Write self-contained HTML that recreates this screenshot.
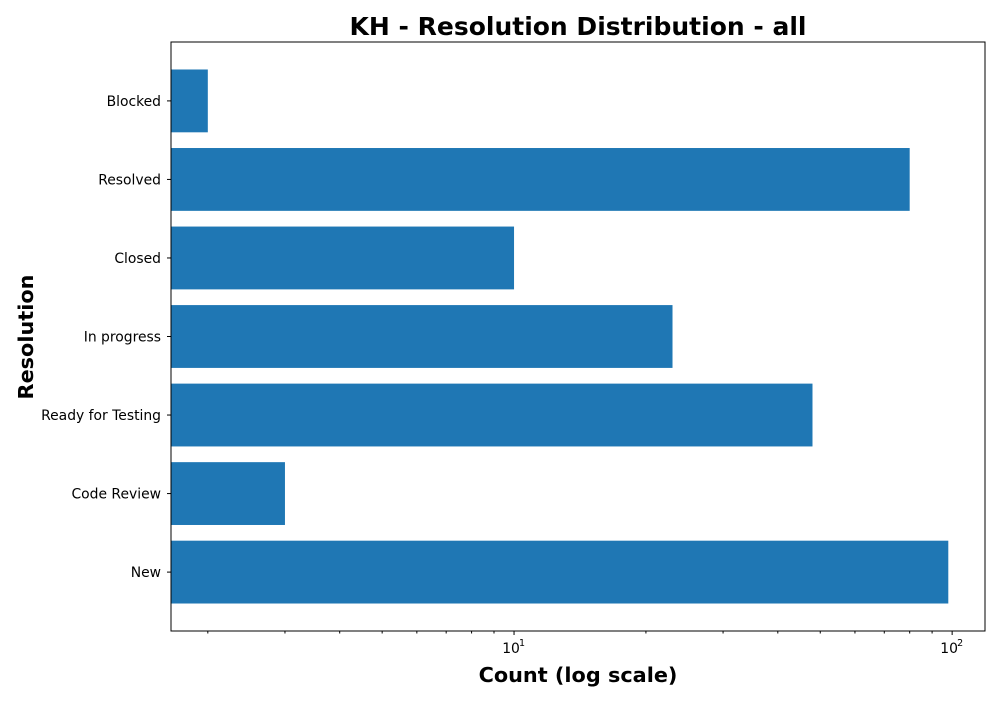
<!DOCTYPE html>
<html><head><meta charset="utf-8"><style>
body{margin:0;background:#fff;}
svg text{font-family:"DejaVu Sans","Liberation Sans",sans-serif;}
</style></head><body>
<svg id="chart" width="1000" height="700" xmlns="http://www.w3.org/2000/svg">
<rect width="1000" height="700" fill="#fff"/>
<text x="578" y="35" text-anchor="middle" font-size="25" font-weight="bold">KH - Resolution Distribution - all</text>
<text x="578" y="682" text-anchor="middle" font-size="20.8" font-weight="bold">Count (log scale)</text>
<text transform="translate(33,337) rotate(-90)" text-anchor="middle" font-size="20.8" font-weight="bold">Resolution</text>
<g id="bars"></g>
<g id="axes"></g>
<rect x="171" y="42" width="814" height="589" fill="none" stroke="#000" stroke-width="1"/>
</svg>
<script>
const categories = ["New","Code Review","Ready for Testing","In progress","Closed","Resolved","Blocked"];
const counts = [98,3,48,23,10,80,2];
const majorTicks = [10,100];
const majorLabels = ["10","10"];
const majorExp = ["1","2"];

const L=171,R=985,T=42,B=631;
const lmin=0.217,lmax=2.075;
const xs=v=>L+(Math.log10(v)-lmin)/(lmax-lmin)*(R-L);
const ys=i=>B-(i+0.75)/7.5*(B-T);
const bh=0.8*(B-T)/7.5;
const NS="http://www.w3.org/2000/svg";
const bars=document.getElementById('bars'), axes=document.getElementById('axes');
function mk(tag,attrs,parent){const e=document.createElementNS(NS,tag);for(const k in attrs)e.setAttribute(k,attrs[k]);parent.appendChild(e);return e;}
categories.forEach((c,i)=>{
  const r=mk('rect',{x:L,y:ys(i)-bh/2,width:Math.max(0,xs(counts[i])-L),height:bh,fill:'#1f77b4'},bars);
  
  
  mk('line',{x1:L-4,x2:L,y1:ys(i),y2:ys(i),stroke:'#000'},axes);
  const t=mk('text',{x:L-10,y:ys(i)+5,'text-anchor':'end','font-size':13.9},axes);
  t.textContent=c;
  
  
});
for(let d=1;d<=100;d*=10){for(let m=2;m<=9;m++){const v=d*m;const x=xs(v);if(x>=L&&x<=R)mk('line',{x1:x,x2:x,y1:B,y2:B+2.5,stroke:'#000'},axes);}}
majorTicks.forEach((v,i)=>{
  const x=xs(v);
  mk('line',{x1:x,x2:x,y1:B,y2:B+4,stroke:'#000'},axes);
  const t=mk('text',{x:x-3,y:B+22,'text-anchor':'middle','font-size':13.9},axes);
  t.textContent=majorLabels[i];
  
  
  const s=mk('text',{x:x+5,y:B+15,'text-anchor':'start','font-size':9.5},axes);
  s.textContent=majorExp[i];
  
  
});
</script>
</body></html>
